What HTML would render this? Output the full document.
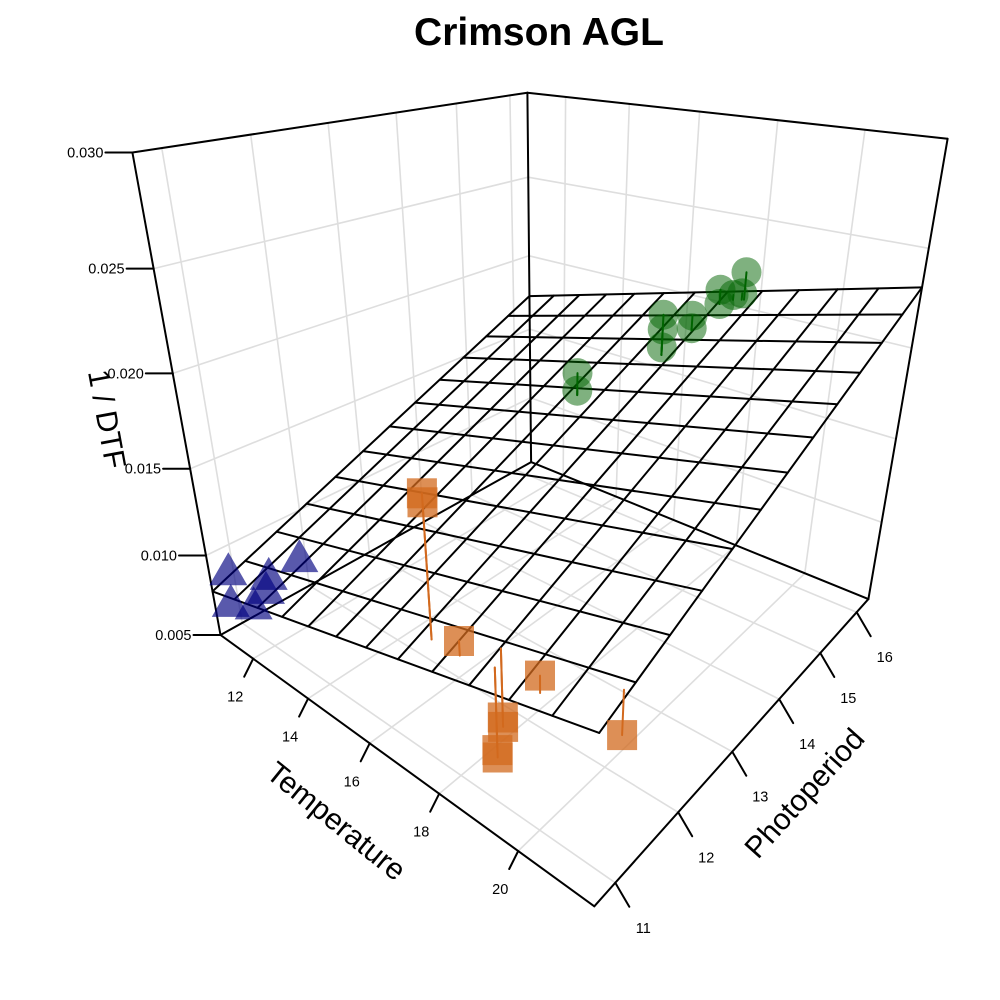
<!DOCTYPE html>
<html><head><meta charset="utf-8"><title>Crimson AGL</title>
<style>
html,body{margin:0;padding:0;background:#fff;}
svg{display:block;font-family:"Liberation Sans",Arial,sans-serif;}
</style></head>
<body>
<svg id="chart" width="1000" height="1000" viewBox="0 0 1000 1000" xmlns="http://www.w3.org/2000/svg">
<rect x="0" y="0" width="1000" height="1000" fill="#fff"/>
<text x="539" y="45" font-size="39" font-weight="bold" text-anchor="middle">Crimson AGL</text>
<g id="gridG"></g>
<g id="boxG"></g>
<g id="axisG"></g>
<g id="surfG"></g>
<g id="dropG"></g>
<g id="ptG"></g>
<text x="0" y="0" font-size="30" text-anchor="middle" transform="translate(97,421) rotate(79.5)">1 / DTF</text>
<text x="0" y="0" font-size="30" text-anchor="middle" transform="translate(330,829) rotate(39)">Temperature</text>
<text x="0" y="0" font-size="30" text-anchor="middle" transform="translate(812,800) rotate(-48)">Photoperiod</text>
</svg>
<script>
// ---- data ----
const groups = ["blue","blue","blue","blue","blue","blue",
  "orange","orange","orange","orange","orange","orange","orange","orange","orange",
  "green","green","green","green","green","green","green","green","green","green","green","green"];
const temperature = [10.81,11.04,11.50,11.85,11.62,11.96,
  17.45,17.45,18.3,20.3,18.97,18.97,19.15,19.15,21.6,
  15.58,15.58,16.86,16.86,16.86,17.08,17.08,17.19,17.19,17.75,17.69,17.46];
const photoperiod = [10.9,10.8,11.2,10.85,11.6,11.0,
  10.98,10.98,10.92,10.84,11.1,11.1,10.92,10.92,11.085,
  14.35,14.35,15.12,15.12,15.12,15.58,15.58,16.1,16.1,16.18,16.18,16.18];
const invDTF = [0.0085,0.0070,0.0082,0.0076,0.0085,0.0083,
  0.0188,0.0184,0.0129,0.0139,0.0093,0.0088,0.0084,0.0080,0.0121,
  0.01776,0.01676,0.0207,0.0199,0.0189,0.0202,0.0195,0.0211,0.0203,0.02225,0.02105,0.02085];
// fitted plane coefficients: z = b0 + bT*T + bP*P
const planeCoef = [-0.015826, 0.000527, 0.001681];
const tempTicks = [12,14,16,18,20];
const photoTicks = [11,12,13,14,15,16];
const zTicks = [0.005,0.010,0.015,0.020,0.025,0.030];
const zTickLabels = ["0.005","0.010","0.015","0.020","0.025","0.030"];
const tRange = [10.7,21.7], pRange = [10.7,16.35], zRange = [0.005,0.030];

// ---- camera (fit from cube corners and ticks) ----
const corr = [
 [0,0,0,220,633],[1,0,0,595,905],[1,1,0,869,598],[0,1,0,531,462],
 [0,0,1,132,152],[0,1,1,528,93],[1,1,1,947,138],
 [0,0,0.2,206,555],[0,0,0.6,173,375],
 [0.118,0,0,253,660],[0.482,0,0,370,744],[0.845,0,0,518,851],
 [1,0.407,0,733,752],[1,0.761,0,819,655]];
function solveCam(){
  const A=[],b=[];
  corr.forEach(c=>{const[u,v,w,X,Y]=c;
    A.push([u,v,w,1,0,0,0,0,-X*u,-X*v,-X*w]);b.push(X);
    A.push([0,0,0,0,u,v,w,1,-Y*u,-Y*v,-Y*w]);b.push(Y);});
  const n=11,N=[],r=[];
  for(let i=0;i<n;i++){N.push(new Array(n).fill(0));r.push(0);}
  for(let k=0;k<A.length;k++)for(let i=0;i<n;i++){r[i]+=A[k][i]*b[k];for(let j=0;j<n;j++)N[i][j]+=A[k][i]*A[k][j];}
  for(let i=0;i<n;i++){let p=i;for(let k=i+1;k<n;k++)if(Math.abs(N[k][i])>Math.abs(N[p][i]))p=k;
    [N[i],N[p]]=[N[p],N[i]];[r[i],r[p]]=[r[p],r[i]];
    for(let k=i+1;k<n;k++){const f=N[k][i]/N[i][i];for(let j=i;j<n;j++)N[k][j]-=f*N[i][j];r[k]-=f*r[i];}}
  const x=new Array(n).fill(0);
  for(let i=n-1;i>=0;i--){let s=r[i];for(let j=i+1;j<n;j++)s-=N[i][j]*x[j];x[i]=s/N[i][i];}
  return x;
}
const M=solveCam();
function proj(T,P,z){
  const u=(T-tRange[0])/(tRange[1]-tRange[0]),v=(P-pRange[0])/(pRange[1]-pRange[0]),w=(z-zRange[0])/(zRange[1]-zRange[0]);
  const d=M[8]*u+M[9]*v+M[10]*w+1;
  return [(M[0]*u+M[1]*v+M[2]*w+M[3])/d,(M[4]*u+M[5]*v+M[6]*w+M[7])/d];
}
const NS="http://www.w3.org/2000/svg";
function line(g,a,b,stroke,sw,name){
  const l=document.createElementNS(NS,"line");
  l.setAttribute("x1",a[0].toFixed(1));l.setAttribute("y1",a[1].toFixed(1));
  l.setAttribute("x2",b[0].toFixed(1));l.setAttribute("y2",b[1].toFixed(1));
  l.setAttribute("stroke",stroke);l.setAttribute("stroke-width",sw);l.setAttribute("stroke-linecap","round");
  
  
  g.appendChild(l);return l;
}
function text(g,x,y,s,anchor,name){
  const t=document.createElementNS(NS,"text");
  t.setAttribute("x",x.toFixed(1));t.setAttribute("y",y.toFixed(1));t.setAttribute("font-size","14.5");
  t.setAttribute("text-anchor",anchor);t.textContent=s;
  
  
  g.appendChild(t);
}
const [t0,t1]=tRange,[p0,p1]=pRange,[z0,z1]=zRange;
const gridG=document.getElementById("gridG"),GC="#dedede";
tempTicks.forEach(t=>line(gridG,proj(t,p0,z0),proj(t,p1,z0),GC,1.6,"floor-grid-line"));
photoTicks.forEach(p=>line(gridG,proj(t0,p,z0),proj(t1,p,z0),GC,1.6,"floor-grid-line"));
photoTicks.forEach(p=>line(gridG,proj(t0,p,z0),proj(t0,p,z1),GC,1.6,"wall-grid-line"));
zTicks.forEach(z=>line(gridG,proj(t0,p0,z),proj(t0,p1,z),GC,1.6,"wall-grid-line"));
tempTicks.forEach(t=>line(gridG,proj(t,p1,z0),proj(t,p1,z1),GC,1.6,"wall-grid-line"));
zTicks.forEach(z=>line(gridG,proj(t0,p1,z),proj(t1,p1,z),GC,1.6,"wall-grid-line"));
const boxG=document.getElementById("boxG");
[[[t0,p0,z0],[t0,p0,z1]],[[t0,p1,z0],[t0,p1,z1]],[[t1,p1,z0],[t1,p1,z1]],
 [[t0,p0,z1],[t0,p1,z1]],[[t0,p1,z1],[t1,p1,z1]],
 [[t0,p0,z0],[t1,p0,z0]],[[t1,p0,z0],[t1,p1,z0]],[[t1,p1,z0],[t0,p1,z0]],[[t0,p1,z0],[t0,p0,z0]]
].forEach(e=>line(boxG,proj(...e[0]),proj(...e[1]),"#000",2,"box-edge"));
const axisG=document.getElementById("axisG");
zTicks.forEach((z,i)=>{const a=proj(t0,p0,z);line(axisG,a,[a[0]-27,a[1]],"#000",2,"z-tick");
  text(axisG,a[0]-29,a[1]+5,zTickLabels[i],"end","z-tick-label");});
tempTicks.forEach(t=>{const a=proj(t,p0,z0);line(axisG,a,[a[0]-9,a[1]+18],"#000",2,"x-tick");
  text(axisG,a[0]-18,a[1]+43,String(t),"middle","x-tick-label");});
photoTicks.forEach(p=>{const a=proj(t1,p,z0);line(axisG,a,[a[0]+14,a[1]+24],"#000",2,"y-tick");
  text(axisG,a[0]+28,a[1]+50,String(p),"middle","y-tick-label");});
const surfG=document.getElementById("surfG");
function fit(T,P){return planeCoef[0]+planeCoef[1]*T+planeCoef[2]*P;}
const NG=12;
for(let i=0;i<=NG;i++){
  const t=t0+(t1-t0)*i/NG,p=p0+(p1-p0)*i/NG;
  line(surfG,proj(t,p0,fit(t,p0)),proj(t,p1,fit(t,p1)),"#000",2,"surface-grid-line");
  line(surfG,proj(t0,p,fit(t0,p)),proj(t1,p,fit(t1,p)),"#000",2,"surface-grid-line");
}
const dropG=document.getElementById("dropG"),ptG=document.getElementById("ptG");
const colors={blue:"#000080",orange:"#d2691e",green:"#006400"};
const alphas={blue:0.65,orange:0.75,green:0.5};
for(let i=0;i<groups.length;i++){
  const g=groups[i],a=proj(temperature[i],photoperiod[i],invDTF[i]);
  const s=proj(temperature[i],photoperiod[i],fit(temperature[i],photoperiod[i]));
  if(g!=="blue")line(dropG,a,s,colors[g],2,"residual-line");
  let el;
  if(g==="orange"){el=document.createElementNS(NS,"rect");
    el.setAttribute("x",(a[0]-15).toFixed(1));el.setAttribute("y",(a[1]-15).toFixed(1));
    el.setAttribute("width","30");el.setAttribute("height","30");}
  else if(g==="green"){el=document.createElementNS(NS,"circle");
    el.setAttribute("cx",a[0].toFixed(1));el.setAttribute("cy",a[1].toFixed(1));el.setAttribute("r","15");}
  else{el=document.createElementNS(NS,"polygon");
    el.setAttribute("points",`${a[0]},${a[1]-22} ${a[0]-19},${a[1]+11} ${a[0]+19},${a[1]+11}`);}
  el.setAttribute("fill",colors[g]);el.setAttribute("fill-opacity",alphas[g]);
  
  
  ptG.appendChild(el);
}
</script>
</body></html>
